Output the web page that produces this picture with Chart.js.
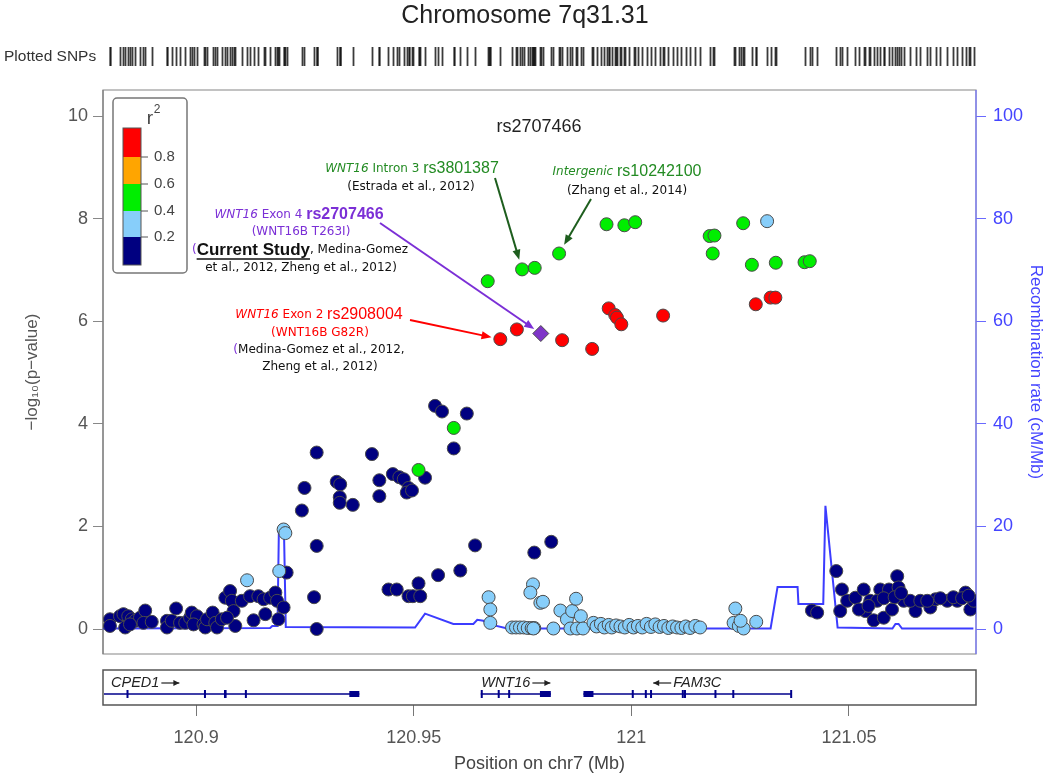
<!DOCTYPE html>
<html><head><meta charset="utf-8">
<script src="https://cdn.jsdelivr.net/npm/chart.js@4.4.1/dist/chart.umd.min.js"></script>
<style>
html,body{margin:0;padding:0;background:#fff;}
#wrap{position:relative;width:1050px;height:775px;overflow:hidden;background:#fff;}
#main{position:absolute;left:0;top:0;}
#genes{position:absolute;left:0;top:660px;}
</style></head><body>
<div id="wrap"><canvas id="main" width="1050" height="663"></canvas><canvas id="genes" width="1050" height="115"></canvas></div>
<script>
// ---------------- data ----------------
const X_MIN = 120.8786, X_MAX = 121.0792;
const xTicks = [120.9, 120.95, 121, 121.05];
const yTicks = [0, 2, 4, 6, 8, 10];
const y2Ticks = [0, 20, 40, 60, 80, 100];
const legendBreaks = ['0.8', '0.6', '0.4', '0.2'];

// index SNP (purple diamond)
const snpLead = [[120.9792, 5.76]];
// r2 0.8-1.0
const snpRed = [[120.9699,5.65],[120.9737,5.84],[120.9841,5.63],[120.9910,5.46],[120.9948,6.25],[120.9963,6.12],[120.9967,6.07],[120.9977,5.94],[121.0073,6.11],[121.0286,6.33],[121.0320,6.46],[121.0331,6.46]];
// r2 0.6-0.8
const snpOrange = [];
// r2 0.4-0.6
const snpGreen = [[120.9592,3.92],[120.9511,3.10],[120.9943,7.89],[120.9984,7.87],[121.0009,7.93],[120.9834,7.32],[120.9749,7.01],[120.9778,7.04],[120.9670,6.78],[121.0180,7.66],[121.0191,7.67],[121.0187,7.32],[121.0257,7.91],[121.0277,7.10],[121.0332,7.14],[121.0398,7.15],[121.0410,7.17]];
// r2 0.2-0.4
const snpLightBlue = [[120.9117,0.95],[120.9201,1.94],[120.9205,1.87],[120.9191,1.13],
 [120.9774,0.87],[120.9768,0.71],[120.9791,0.51],[120.9672,0.62],[120.9676,0.38],[120.9676,0.12],
 [120.9726,0.03],[120.9735,0.03],[120.9744,0.03],[120.9753,0.03],[120.9762,0.02],[120.9771,0.02],[120.9777,0.02],
 [120.9797,0.53],[120.9775,0.01],[120.9821,0.01],[120.9837,0.36],[120.9852,0.19],[120.9864,0.35],[120.9873,0.59],[120.9884,0.25],[120.9860,0.01],[120.9875,0.01],[120.9889,0.01],
 [120.9913,0.12],[120.9920,0.05],[120.9930,0.10],[120.9938,0.03],[120.9948,0.08],[120.9955,0.03],[120.9965,0.07],[120.9975,0.05],[120.9985,0.03],[120.9995,0.08],[121.0005,0.03],[121.0015,0.06],[121.0025,0.03],[121.0035,0.10],[121.0045,0.04],[121.0055,0.09],[121.0065,0.04],[121.0075,0.06],[121.0085,0.02],[121.0095,0.05],[121.0105,0.03],[121.0115,0.02],[121.0125,0.05],[121.0135,0.02],[121.0147,0.06],[121.0158,0.03],
 [121.0239,0.40],[121.0235,0.12],[121.0247,0.06],[121.0258,0.01],[121.0251,0.16],[121.0287,0.14],
 [121.0312,7.95]];
// r2 0.0-0.2
const snpNavy = [[120.8802,0.19],[120.8802,0.06],[120.8825,0.25],[120.8833,0.29],[120.8844,0.25],[120.8852,0.19],[120.8837,0.03],[120.8860,0.16],[120.8871,0.22],[120.8883,0.36],[120.8879,0.12],[120.8898,0.14],[120.8848,0.09],
 [120.8933,0.16],[120.8933,0.03],[120.8944,0.16],[120.8954,0.40],[120.8963,0.12],[120.8975,0.12],[120.8986,0.22],[120.8990,0.32],[120.9002,0.25],[120.8994,0.09],[120.9017,0.09],[120.9021,0.03],[120.9025,0.19],[120.9038,0.32],[120.9044,0.12],[120.9048,0.03],[120.9059,0.19],[120.9067,0.61],[120.9078,0.74],[120.9082,0.55],[120.9086,0.35],[120.9090,0.06],[120.9071,0.22],[120.9105,0.55],[120.9124,0.64],[120.9143,0.64],[120.9155,0.58],[120.9170,0.61],[120.9182,0.71],[120.9186,0.55],[120.9201,0.42],[120.9189,0.19],[120.9159,0.29],[120.9132,0.17],[120.9208,1.10],
 [120.9277,3.44],[120.9249,2.75],[120.9243,2.31],[120.9323,2.87],[120.9331,2.82],[120.9330,2.57],[120.9330,2.46],[120.9360,2.42],[120.9404,3.41],[120.9421,2.90],[120.9421,2.59],[120.9452,3.02],[120.9467,2.96],[120.9477,2.92],[120.9488,2.75],[120.9484,2.66],[120.9496,2.70],[120.9526,2.95],[120.9549,4.35],[120.9565,4.24],[120.9622,4.20],[120.9592,3.52],[120.9277,1.62],[120.9641,1.63],[120.9607,1.14],[120.9556,1.05],[120.9511,0.89],[120.9442,0.77],[120.9461,0.77],[120.9488,0.64],[120.9498,0.64],[120.9515,0.64],[120.9271,0.62],[120.9277,0.0],[120.9777,1.49],[120.9816,1.70],
 [121.0415,0.36],[121.0427,0.32],[121.0471,1.13],[121.0484,0.77],[121.0480,0.35],[121.0496,0.55],[121.0515,0.61],[121.0534,0.77],[121.0538,0.35],[121.0523,0.38],[121.0557,0.17],[121.0580,0.22],[121.0572,0.77],[121.0592,0.77],[121.0611,1.03],[121.0614,0.81],[121.0599,0.38],[121.0653,0.35],[121.0626,0.55],[121.0687,0.42],[121.0699,0.58],[121.0726,0.55],[121.0749,0.55],[121.0768,0.71],[121.0779,0.38],[121.0787,0.55],[121.0549,0.55],[121.0565,0.55],[121.0580,0.60],[121.0641,0.55],[121.0664,0.55],[121.0680,0.55],[121.0605,0.62],[121.0545,0.45],[121.0620,0.70],[121.0710,0.60],[121.0740,0.62],[121.0760,0.60],[121.0775,0.65]];

// recombination rate (cM/Mb)
const recombPos = [120.8786,120.9170,120.9175,120.9187,120.9190,120.9202,120.9206,120.9503,120.9526,120.9591,120.9637,120.9646,120.9660,120.9671,120.9715,121.0320,121.0336,121.0382,121.0384,121.0441,121.0446,121.0474,121.0600,121.0607,121.0614,121.0622,121.0786];
const recombRate = [0.1,0.2,0.6,0.6,18.5,18.5,0.4,0.3,3.0,1.0,1.0,1.8,1.6,1.0,0.1,0.1,8.2,8.2,4.9,4.9,24.0,0.3,0.1,1.0,1.0,0.1,0.1];

// genes
const geneNames = ['CPED1', 'WNT16', 'FAM3C'];
const geneStart = [120.6300, 120.9654, 120.9890];
const geneEnd = [120.9375, 120.9815, 121.0367];
const geneStrand = ['+', '+', '-'];
const geneExons = [
  [[120.8840,120.8842],[120.9018,120.9020],[120.9064,120.9070],[120.9112,120.9114],[120.9352,120.9375]],
  [[120.9654,120.9656],[120.9693,120.9697],[120.9717,120.9719],[120.9790,120.9815]],
  [[120.9890,120.9913],[121.0001,121.0003],[121.0031,121.0033],[121.0043,121.0045],[121.0116,121.0118],[121.0121,121.0123],[121.0191,121.0193],[121.0232,121.0234],[121.0365,121.0367]]
];

// ---------------- style ----------------
const C_NAVY = '#000080', C_LB = '#87CEFA', C_GREEN = '#00EE00', C_ORANGE = '#FFA500', C_RED = '#FF0000', C_PURPLE = '#7E35C8';
const T_GREEN = '#238B23', T_PURPLE = '#7B2FD6', T_RED = '#FF0000', T_BLACK = '#111';
const RECOMB = '#3C3CFF';
Chart.defaults.font.family = "'Liberation Sans', Arial, sans-serif";

const toPts = arr => arr.map(p => ({x: p[0], y: p[1]}));
function ptDS(label, arr, color, extra) {
  return Object.assign({label, data: toPts(arr), backgroundColor: color, borderColor: '#4a4a4a', borderWidth: 1, pointRadius: 6.5, pointHoverRadius: 6.5, clip: 0}, extra || {});
}

function richLine(ctx, cx, cy, segs) {
  ctx.save();
  ctx.textBaseline = 'middle'; ctx.textAlign = 'left';
  let total = 0;
  const w = segs.map(s => { ctx.font = s.f; const m = ctx.measureText(s.t).width; total += m; return m; });
  let x = cx - total / 2;
  segs.forEach((s, i) => {
    ctx.font = s.f; ctx.fillStyle = s.c; ctx.fillText(s.t, x, cy);
    if (s.u) { ctx.strokeStyle = s.c; ctx.lineWidth = 1.3; ctx.beginPath(); ctx.moveTo(x, cy + s.u); ctx.lineTo(x + w[i], cy + s.u); ctx.stroke(); }
    x += w[i];
  });
  ctx.restore();
}
function arrow(ctx, x1, y1, x2, y2, color, lw, hl, hw) {
  const a = Math.atan2(y2 - y1, x2 - x1);
  ctx.save();
  ctx.strokeStyle = color; ctx.fillStyle = color; ctx.lineWidth = lw;
  ctx.beginPath(); ctx.moveTo(x1, y1); ctx.lineTo(x2 - Math.cos(a) * hl * 0.8, y2 - Math.sin(a) * hl * 0.8); ctx.stroke();
  ctx.beginPath(); ctx.moveTo(x2, y2);
  ctx.lineTo(x2 - hl * Math.cos(a) + hw * Math.sin(a), y2 - hl * Math.sin(a) - hw * Math.cos(a));
  ctx.lineTo(x2 - hl * Math.cos(a) - hw * Math.sin(a), y2 - hl * Math.sin(a) + hw * Math.cos(a));
  ctx.closePath(); ctx.fill();
  ctx.restore();
}

const SM = "12px 'DejaVu Sans'", SMI = "italic 12px 'DejaVu Sans'";
const RS = "16px 'Liberation Sans'", RSB = "bold 16px 'Liberation Sans'";

// frame, plotted SNPs track, legend, annotations
const mainDecor = {
  id: 'mainDecor',
  beforeDatasetsDraw(chart) {
    const {ctx, chartArea: a} = chart;
    ctx.save();
    ctx.strokeStyle = '#9a9a9a'; ctx.lineWidth = 1.2;
    ctx.strokeRect(a.left, a.top, a.right - a.left, a.bottom - a.top);
    ctx.strokeStyle = '#7a7a7a';
    ctx.beginPath(); ctx.moveTo(a.left, a.top); ctx.lineTo(a.left, a.bottom); ctx.stroke();
    ctx.strokeStyle = '#7070ff';
    ctx.beginPath(); ctx.moveTo(a.right, a.top); ctx.lineTo(a.right, a.bottom); ctx.stroke();
    ctx.restore();
  },
  afterDraw(chart) {
    const {ctx, scales} = chart;
    const xs = scales.x, ys = scales.y;
    ctx.save();
    // plotted SNPs
    ctx.font = "15.5px 'Liberation Sans'"; ctx.fillStyle = '#333'; ctx.textBaseline = 'middle'; ctx.textAlign = 'left';
    ctx.fillText('Plotted SNPs', 4, 57);
    ctx.strokeStyle = 'rgba(25,25,25,0.85)'; ctx.lineWidth = 1.8;
    [snpLead, snpRed, snpOrange, snpGreen, snpLightBlue, snpNavy].forEach(arr => arr.forEach(p => {
      const px = Math.round(xs.getPixelForValue(p[0])) + 0.5;
      ctx.beginPath(); ctx.moveTo(px, 47); ctx.lineTo(px, 66); ctx.stroke();
    }));
    // lead SNP name
    ctx.font = "18px 'Liberation Sans'"; ctx.fillStyle = '#222'; ctx.textAlign = 'center';
    ctx.fillText('rs2707466', 539, 127);
    // legend
    ctx.fillStyle = '#fff'; ctx.strokeStyle = '#777'; ctx.lineWidth = 1.5;
    ctx.beginPath(); ctx.roundRect(113, 98, 74, 175, 4); ctx.fill(); ctx.stroke();
    ctx.fillStyle = '#444'; ctx.font = "19px 'Liberation Sans'"; ctx.textAlign = 'center';
    ctx.fillText('r', 150, 119);
    ctx.font = "12px 'Liberation Sans'"; ctx.fillText('2', 157, 110);
    const cols = [C_RED, C_ORANGE, C_GREEN, C_LB, C_NAVY];
    const edges = [128, 157, 184, 211, 237, 265];
    cols.forEach((c, i) => { ctx.fillStyle = c; ctx.fillRect(123, edges[i], 18, edges[i + 1] - edges[i]); });
    ctx.strokeStyle = '#555'; ctx.lineWidth = 1; ctx.strokeRect(123, 128, 18, 137);
    ctx.font = "15px 'Liberation Sans'"; ctx.fillStyle = '#444'; ctx.textAlign = 'left';
    legendBreaks.forEach((t, i) => {
      const y = edges[i + 1];
      ctx.beginPath(); ctx.moveTo(141, y); ctx.lineTo(148, y); ctx.stroke();
      ctx.fillText(t, 154, y);
    });
    ctx.restore();

    // annotations
    richLine(ctx, 412, 169, [{t: 'WNT16', f: SMI, c: T_GREEN}, {t: ' Intron 3 ', f: SM, c: T_GREEN}, {t: 'rs3801387', f: RS, c: T_GREEN}]);
    richLine(ctx, 411, 187, [{t: '(Estrada et al., 2012)', f: SM, c: T_BLACK}]);
    richLine(ctx, 627, 172, [{t: 'Intergenic ', f: SMI, c: T_GREEN}, {t: 'rs10242100', f: RS, c: T_GREEN}]);
    richLine(ctx, 627, 191, [{t: '(Zhang et al., 2014)', f: SM, c: T_BLACK}]);
    richLine(ctx, 299, 215, [{t: 'WNT16', f: SMI, c: T_PURPLE}, {t: ' Exon 4 ', f: SM, c: T_PURPLE}, {t: 'rs2707466', f: RSB, c: T_PURPLE}]);
    richLine(ctx, 301, 232, [{t: '(WNT16B T263I)', f: SM, c: T_PURPLE}]);
    richLine(ctx, 300, 250, [{t: '(', f: SM, c: T_PURPLE}, {t: 'Current Study', f: "bold 17px 'Liberation Sans'", c: T_BLACK, u: 9}, {t: ', Medina-Gomez', f: SM, c: T_BLACK}]);
    richLine(ctx, 301, 268, [{t: 'et al., 2012, Zheng et al., 2012)', f: SM, c: T_BLACK}]);
    richLine(ctx, 319, 315, [{t: 'WNT16', f: SMI, c: T_RED}, {t: ' Exon 2 ', f: SM, c: T_RED}, {t: 'rs2908004', f: RS, c: T_RED}]);
    richLine(ctx, 320, 333, [{t: '(WNT16B G82R)', f: SM, c: T_RED}]);
    richLine(ctx, 319, 350, [{t: '(', f: SM, c: T_PURPLE}, {t: 'Medina-Gomez et al., 2012,', f: SM, c: T_BLACK}]);
    richLine(ctx, 320, 367, [{t: 'Zheng et al., 2012)', f: SM, c: T_BLACK}]);

    // arrows to their SNPs
    const target = (p, tx, ty, gap) => {
      const px = xs.getPixelForValue(p[0]), py = ys.getPixelForValue(p[1]);
      const d = Math.hypot(px - tx, py - ty);
      return [px - (px - tx) / d * gap, py - (py - ty) / d * gap];
    };
    let t;
    t = target(snpGreen[6], 495, 178, 10); arrow(ctx, 495, 178, t[0], t[1], '#1E5E1E', 2, 10, 4);
    t = target(snpGreen[5], 591, 199, 10); arrow(ctx, 591, 199, t[0], t[1], '#1E5E1E', 2, 10, 4);
    t = target(snpLead[0], 380, 223, 8); arrow(ctx, 380, 223, t[0], t[1], T_PURPLE, 2, 10, 4);
    t = target(snpRed[0], 410, 320, 9); arrow(ctx, 410, 320, t[0], t[1], T_RED, 2, 10, 4);
  }
};

const noEdgePad = s => { s.paddingTop = 0; s.paddingBottom = 0; };

new Chart(document.getElementById('main'), {
  type: 'scatter',
  data: {
    datasets: [
      ptDS('index SNP', snpLead, C_PURPLE, {pointStyle: 'rectRot', pointRadius: 8, pointHoverRadius: 8}),
      ptDS('0.8-1.0', snpRed, C_RED),
      ptDS('0.6-0.8', snpOrange, C_ORANGE),
      ptDS('0.4-0.6', snpGreen, C_GREEN),
      ptDS('0.2-0.4', snpLightBlue, C_LB),
      ptDS('0.0-0.2', snpNavy, C_NAVY),
      {label: 'Recombination rate', data: recombPos.map((x, i) => ({x, y: recombRate[i]})), yAxisID: 'y2', showLine: true, borderColor: RECOMB, backgroundColor: RECOMB, borderWidth: 2, pointRadius: 0, pointHoverRadius: 0, tension: 0, clip: 0}
    ]
  },
  options: {
    responsive: false, animation: false, events: [],
    layout: {padding: {top: 0, left: 0, right: 0, bottom: 4}},
    plugins: {
      legend: {display: false}, tooltip: {enabled: false},
      title: {display: true, text: 'Chromosome 7q31.31', color: '#222', font: {size: 25, weight: 'normal'}, padding: {top: 1, bottom: 59}}
    },
    scales: {
      x: {type: 'linear', display: false, min: X_MIN, max: X_MAX},
      y: {
        position: 'left', min: -0.487, max: 10.507,
        afterBuildTicks: s => { s.ticks = yTicks.map(v => ({value: v})); },
        afterFit: s => { s.width = 103; noEdgePad(s); },
        grid: {drawOnChartArea: false, drawTicks: true, tickLength: 10, color: '#888'},
        border: {display: false},
        ticks: {color: '#555', font: {size: 18}, padding: 5, callback: v => String(v)},
        title: {display: true, text: '−log₁₀(p−value)', color: '#555', font: {size: 17}, padding: {top: 22, bottom: 0}}
      },
      y2: {
        position: 'right', min: -4.87, max: 105.07,
        afterBuildTicks: s => { s.ticks = y2Ticks.map(v => ({value: v})); },
        afterFit: s => { s.width = 74; noEdgePad(s); },
        grid: {drawOnChartArea: false, drawTicks: true, tickLength: 10, color: '#6a6aff'},
        border: {display: false},
        ticks: {color: '#4444ff', font: {size: 18}, padding: 7, callback: v => String(v)},
        title: {display: true, text: 'Recombination rate (cM/Mb)', color: '#4444ff', font: {size: 17}, padding: {top: 4, bottom: 0}}
      }
    }
  },
  plugins: [mainDecor]
});

// gene track
const geneTrack = {
  id: 'geneTrack',
  afterDraw(chart) {
    const {ctx, chartArea: a, scales} = chart;
    const xs = scales.x;
    ctx.save();
    ctx.strokeStyle = '#555'; ctx.lineWidth = 1.5;
    ctx.strokeRect(a.left, a.top, a.right - a.left, a.bottom - a.top);
    ctx.beginPath(); ctx.rect(a.left + 1, a.top + 1, a.right - a.left - 2, a.bottom - a.top - 2); ctx.clip();
    const lineY = a.top + 24, labY = a.top + 13;
    geneNames.forEach((name, i) => {
      const x1 = xs.getPixelForValue(geneStart[i]), x2 = xs.getPixelForValue(geneEnd[i]);
      ctx.strokeStyle = '#00008B'; ctx.lineWidth = 1.5;
      ctx.beginPath(); ctx.moveTo(x1, lineY); ctx.lineTo(x2, lineY); ctx.stroke();
      ctx.fillStyle = '#00008B';
      geneExons[i].forEach(e => {
        const e1 = xs.getPixelForValue(e[0]), e2 = xs.getPixelForValue(e[1]);
        const w = Math.max(2, e2 - e1);
        const h = w > 3 ? 6 : 8;
        ctx.fillRect(e1, lineY - h / 2, w, h);
      });
      ctx.font = "italic 14.5px 'Liberation Sans'";
      const tw = ctx.measureText(name).width, aw = 18;
      const total = tw + aw + 2;
      let lx = (x1 + x2) / 2 - total / 2;
      if (lx < a.left + 8) lx = a.left + 8;
      ctx.fillStyle = '#222'; ctx.textBaseline = 'middle'; ctx.textAlign = 'left';
      ctx.strokeStyle = '#222'; ctx.lineWidth = 1.2;
      let ax1, ax2, tx;
      if (geneStrand[i] === '+') { tx = lx; ax1 = lx + tw + 2; ax2 = ax1 + aw; }
      else { ax2 = lx; ax1 = lx + aw; tx = lx + aw + 2; }
      ctx.fillText(name, tx, labY);
      ctx.beginPath(); ctx.moveTo(ax1, labY); ctx.lineTo(ax2, labY); ctx.stroke();
      const d = ax2 > ax1 ? 1 : -1;
      ctx.beginPath(); ctx.moveTo(ax2, labY); ctx.lineTo(ax2 - d * 6, labY - 3); ctx.lineTo(ax2 - d * 6, labY + 3); ctx.closePath(); ctx.fill();
    });
    ctx.restore();
  }
};

new Chart(document.getElementById('genes'), {
  type: 'scatter',
  data: {datasets: []},
  options: {
    responsive: false, animation: false, events: [],
    layout: {padding: {top: 10, left: 103, right: 74, bottom: 0}},
    plugins: {legend: {display: false}, tooltip: {enabled: false}},
    scales: {
      x: {
        type: 'linear', min: X_MIN, max: X_MAX,
        afterBuildTicks: s => { s.ticks = xTicks.map(v => ({value: v})); },
        afterFit: s => { s.height = 70; },
        grid: {drawOnChartArea: false, drawTicks: true, tickLength: 11, color: '#777'},
        border: {display: false},
        ticks: {color: '#555', font: {size: 18}, padding: 11, maxRotation: 0, callback: v => String(+(+v).toFixed(3))},
        title: {display: true, text: 'Position on chr7 (Mb)', color: '#444', font: {size: 18}, padding: {top: 0, bottom: 0}}
      },
      y: {display: false, min: 0, max: 1}
    }
  },
  plugins: [geneTrack]
});
</script></body></html>
